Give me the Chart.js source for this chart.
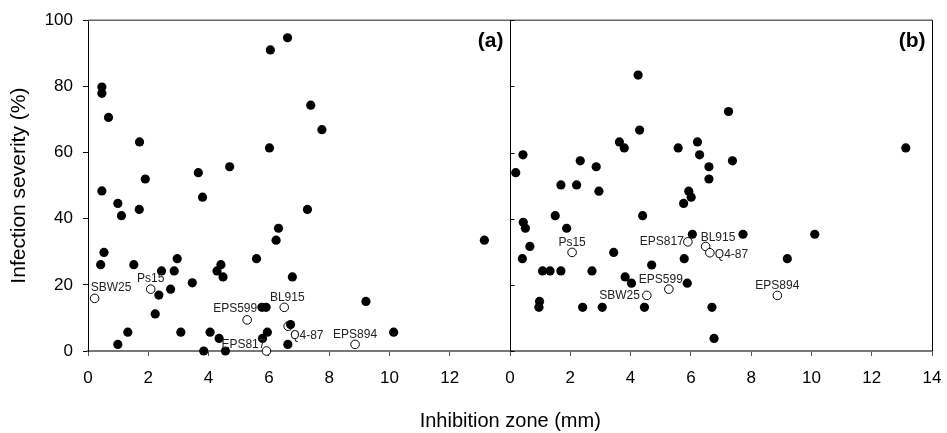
<!DOCTYPE html>
<html>
<head>
<meta charset="utf-8">
<script src="https://cdn.jsdelivr.net/npm/chart.js@4.4.1/dist/chart.umd.min.js"></script>
<style>
  html, body { margin: 0; padding: 0; background: #fff; }
  #wrap { width: 947px; height: 433px; }
</style>
</head>
<body>
<div id="wrap"><canvas id="scatter"></canvas></div>
<script>
const xTicks = [0, 2, 4, 6, 8, 10, 12, 14];
const yTicks = [0, 20, 40, 60, 80, 100];
const panelTags = ['(a)', '(b)'];

// filled dots, panel (a)
const zoneA = [0.46, 0.46, 0.68, 1.71, 1.90, 0.46, 3.66, 3.80, 4.70, 6.02, 6.05, 6.62, 7.39, 7.76,
  0.99, 1.11, 1.70, 7.28, 6.32, 6.24, 0.53, 0.42, 1.52, 2.96, 2.44, 2.86, 2.74, 2.35, 2.23, 3.46,
  4.28, 4.41, 4.48, 5.59, 6.78, 5.77, 5.91, 6.72, 5.95, 5.79, 6.63, 3.08, 4.05, 4.35, 3.84, 4.56,
  1.32, 0.99, 13.15, 9.22, 10.14];
const severityA = [79.8, 77.9, 70.6, 63.2, 52.0, 48.4, 53.9, 46.5, 55.7, 61.4, 91.0, 94.7, 74.3, 66.9,
  44.6, 40.9, 42.8, 42.8, 37.1, 33.5, 29.8, 26.1, 26.1, 27.9, 24.2, 24.2, 18.7, 16.9, 11.2, 20.6,
  24.2, 26.1, 22.4, 27.9, 22.4, 13.2, 13.2, 8.0, 5.7, 3.8, 2.0, 5.7, 5.7, 3.8, 0, 0,
  5.7, 2.0, 33.5, 15.0, 5.7];

// filled dots, panel (b)
const zoneB = [0.19, 0.43, 0.44, 0.51, 0.41, 0.66, 0.98, 0.96, 1.08, 1.33, 1.50, 1.69, 1.69, 1.88,
  2.21, 2.33, 2.41, 2.72, 2.86, 2.95, 3.06, 3.44, 3.63, 3.79, 3.82, 4.03, 4.25, 4.30, 4.40, 4.46,
  4.70, 5.58, 5.76, 5.78, 5.88, 5.93, 6.01, 6.05, 6.22, 6.29, 6.60, 6.60, 6.70, 6.77, 7.25, 7.38,
  7.73, 9.20, 10.11, 13.13];
const severityB = [53.9, 59.3, 38.9, 37.1, 27.9, 31.6, 15.0, 13.2, 24.2, 24.2, 40.9, 50.2, 24.2, 37.1,
  50.2, 57.5, 13.2, 24.2, 55.7, 48.3, 13.2, 29.8, 63.2, 61.4, 22.4, 20.5, 83.4, 66.8, 40.9, 13.2,
  26.0, 61.4, 44.6, 27.9, 20.5, 48.3, 46.5, 35.3, 63.2, 59.3, 55.7, 52.0, 13.2, 3.8, 72.4, 57.5,
  35.3, 27.9, 35.3, 61.4];

// named strains (open circles)
const strains = ['SBW25', 'Ps15', 'EPS599', 'BL915', 'Q4-87', 'EPS817', 'EPS894'];
const strainZoneA = [0.22, 2.08, 5.28, 6.51, 6.64, 5.92, 8.86];
const strainSevA = [15.9, 18.7, 9.4, 13.2, 7.5, 0, 2.0];
const strainZoneB = [4.54, 2.06, 5.27, 6.49, 6.63, 5.90, 8.87];
const strainSevB = [16.8, 29.8, 18.7, 31.6, 29.7, 33.0, 16.8];

// label placement relative to the point: [dx, dy, align]
const labelPosA = [[-4, -11, 'left'], [0, -10, 'center'], [-12, -11, 'center'], [3, -10, 'center'],
  [2, 9, 'left'], [-1, -6, 'right'], [0, -10, 'center']];
const labelPosB = [[-7, 0, 'right'], [0, -10, 'center'], [-8, -9, 'center'], [-5, -9, 'left'],
  [5, 2, 'left'], [-4, 0, 'right'], [0, -10, 'center']];

const FONT = "'Liberation Sans', Arial, sans-serif";
const pts = (xs, ys) => xs.map((v, i) => ({ x: v, y: ys[i] }));

const dot = { pointRadius: 4.6, pointHoverRadius: 4.6, backgroundColor: '#000', borderColor: '#000', borderWidth: 0, clip: false };
const ring = { pointRadius: 4.3, pointHoverRadius: 4.3, backgroundColor: '#fff', borderColor: '#000', borderWidth: 1, clip: false };

const decor = {
  id: 'decor',
  afterDatasetsDraw(chart) {
    const { ctx, chartArea: a, scales: { x2, y } } = chart;
    const divX = Math.round(x2.getPixelForValue(0)) + 0.5;
    const rightX = Math.round(x2.getPixelForValue(14)) + 0.5;
    ctx.save();
    ctx.strokeStyle = '#666';
    ctx.lineWidth = 1.5;
    ctx.beginPath();
    ctx.moveTo(a.left, a.top); ctx.lineTo(rightX, a.top);
    ctx.stroke();

    ctx.strokeStyle = '#000';
    ctx.lineWidth = 1;
    ctx.beginPath();
    ctx.moveTo(divX, a.top); ctx.lineTo(divX, a.bottom);
    ctx.moveTo(rightX, a.top); ctx.lineTo(rightX, a.bottom);
    yTicks.forEach(v => {
      const py = Math.round(y.getPixelForValue(v)) + 0.5;
      ctx.moveTo(divX, py); ctx.lineTo(divX + 4, py);
    });
    ctx.stroke();

    // panel tags
    ctx.fillStyle = '#000';
    ctx.font = 'bold 21px ' + FONT;
    ctx.textAlign = 'right';
    ctx.textBaseline = 'middle';
    ctx.fillText(panelTags[0], divX - 7, a.top + 21);
    ctx.fillText(panelTags[1], rightX - 7, a.top + 21);

    // shared x title
    ctx.font = '20px ' + FONT;
    ctx.textAlign = 'center';
    ctx.fillText('Inhibition zone (mm)', (a.left + rightX) / 2, a.bottom + 70);

    // strain names
    ctx.font = '12px ' + FONT;
    ctx.fillStyle = '#222';
    [[2, labelPosA], [3, labelPosB]].forEach(([di, pos]) => {
      chart.getDatasetMeta(di).data.forEach((el, i) => {
        const [dx, dy, al] = pos[i];
        ctx.textAlign = al;
        ctx.fillText(strains[i], el.x + dx, el.y + dy);
      });
    });
    ctx.restore();
  }
};

const xAxis = (hideLast) => ({
  type: 'linear',
  position: 'bottom',
  stack: 'panels',
  stackWeight: 1,
  min: 0,
  max: 14,
  afterBuildTicks: s => { s.ticks = xTicks.map(v => ({ value: v })); },
  afterFit: s => { s.height = 40; s.paddingLeft = 0; s.paddingRight = 0; },
  ticks: {
    autoSkip: false,
    maxRotation: 0,
    color: '#000',
    padding: 12,
    font: { family: FONT, size: 17 },
    callback: v => (hideLast && v === 14) ? '' : v
  },
  grid: { drawOnChartArea: false, tickLength: 5, tickColor: '#555' },
  border: { color: '#777', width: 2 }
});

new Chart(document.getElementById('scatter'), {
  type: 'scatter',
  data: {
    datasets: [
      { label: 'isolates a', data: pts(zoneA, severityA), xAxisID: 'x', ...dot },
      { label: 'isolates b', data: pts(zoneB, severityB), xAxisID: 'x2', ...dot },
      { label: 'strains a', data: pts(strainZoneA, strainSevA), xAxisID: 'x', ...ring },
      { label: 'strains b', data: pts(strainZoneB, strainSevB), xAxisID: 'x2', ...ring }
    ]
  },
  options: {
    responsive: true,
    maintainAspectRatio: false,
    animation: false,
    layout: { padding: { top: 19, right: 15, bottom: 42, left: 0 } },
    plugins: { legend: { display: false }, tooltip: { enabled: false } },
    scales: {
      x: xAxis(true),
      x2: xAxis(false),
      y: {
        min: 0,
        max: 100,
        afterBuildTicks: s => { s.ticks = yTicks.map(v => ({ value: v })); },
        afterFit: s => { s.width = 88; },
        ticks: { color: '#000', padding: 10, font: { family: FONT, size: 17 } },
        grid: { drawOnChartArea: false, tickLength: 5, tickColor: '#000' },
        border: { color: '#000', width: 1 },
        title: {
          display: true,
          text: 'Infection severity (%)',
          color: '#000',
          font: { family: FONT, size: 21 },
          padding: { top: 7, bottom: 0 }
        }
      }
    }
  },
  plugins: [decor]
});
</script>
</body>
</html>
